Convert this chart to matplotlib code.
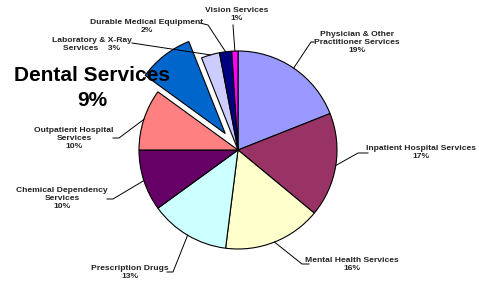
import numpy as np
import matplotlib
matplotlib.use('Agg')
import matplotlib.pyplot as plt

plt.rcParams['font.family'] = ['Liberation Sans', 'DejaVu Sans']

# data, clockwise from 12 o'clock
services = ['Physician & Other\nPractitioner Services', 'Inpatient Hospital Services',
            'Mental Health Services', 'Prescription Drugs',
            'Chemical Dependency\nServices', 'Outpatient Hospital\nServices',
            'Dental Services', 'Laboratory & X-Ray\nServices',
            'Durable Medical Equipment', 'Vision Services']
shares = [19, 17, 16, 13, 10, 10, 9, 3, 2, 1]
colors = ['#9999FF', '#993366', '#FFFFCC', '#CCFFFF', '#660066',
          '#FF8080', '#0066CC', '#CCCCFF', '#000080', '#FF00FF']
explode_frac = [0, 0, 0, 0, 0, 0, 0.21, 0, 0, 0]

W, H = 479, 285
CX, CY, R = 238, 150, 99   # pixel layout, y from top

# label layout (pixel coords, y from top): text centre, leader elbow, leader end at text
label_pos = [(357, 42), (421, 153), (352, 264), (130, 272), (62, 199),
             (74, 138), (92, 88), (92, 44), (147, 26), (237, 15)]
elbows = [(311, 42), (358, 153), (302, 264), (173, 272), (113, 199),
          (119, 138), None, None, (208, 25), (233, 25)]
line_ends = [(314, 42), (368, 153), (309, 264), (167, 272), (107, 199),
             (113, 138), None, (132, 43), (200, 23), (233, 25)]


def px(x, y):
    return x, H - y


fig = plt.figure(figsize=(W / 100, H / 100), dpi=100)
ax = fig.add_axes([0, 0, 1, 1])

wedges, _ = ax.pie(shares, colors=colors, explode=[e * R for e in explode_frac],
                   startangle=90, counterclock=False, center=px(CX, CY), radius=R,
                   wedgeprops=dict(edgecolor='black', linewidth=0.8))
ax.set_xlim(0, W)
ax.set_ylim(0, H)
ax.axis('off')

for i, w in enumerate(wedges):
    name = services[i]
    pct = '%d%%' % shares[i]
    if name == 'Dental Services':
        x, y = px(*label_pos[i])
        ax.text(x, y, name + '\n' + pct, ha='center', va='center',
                fontsize=15, fontweight='bold', linespacing=1.4)
        continue
    if name.startswith('Laboratory'):
        txt = 'Laboratory & X-Ray\nServices    ' + pct
    else:
        txt = name + '\n' + pct
    x, y = px(*label_pos[i])
    ax.text(x, y, txt, ha='center', va='center', fontsize=6.1,
            fontweight='bold', color='#222222', linespacing=1.2)
    # leader line from the middle of the wedge edge
    mid = np.deg2rad((w.theta1 + w.theta2) / 2)
    cx, cy = w.center
    ex, ey = cx + R * np.cos(mid), cy + R * np.sin(mid)
    pts = [(ex, ey)]
    if elbows[i] is not None:
        pts.append(px(*elbows[i]))
    pts.append(px(*line_ends[i]))
    xs, ys = zip(*pts)
    ax.plot(xs, ys, color='black', lw=0.7)

fig.savefig('out.png', dpi=100)
